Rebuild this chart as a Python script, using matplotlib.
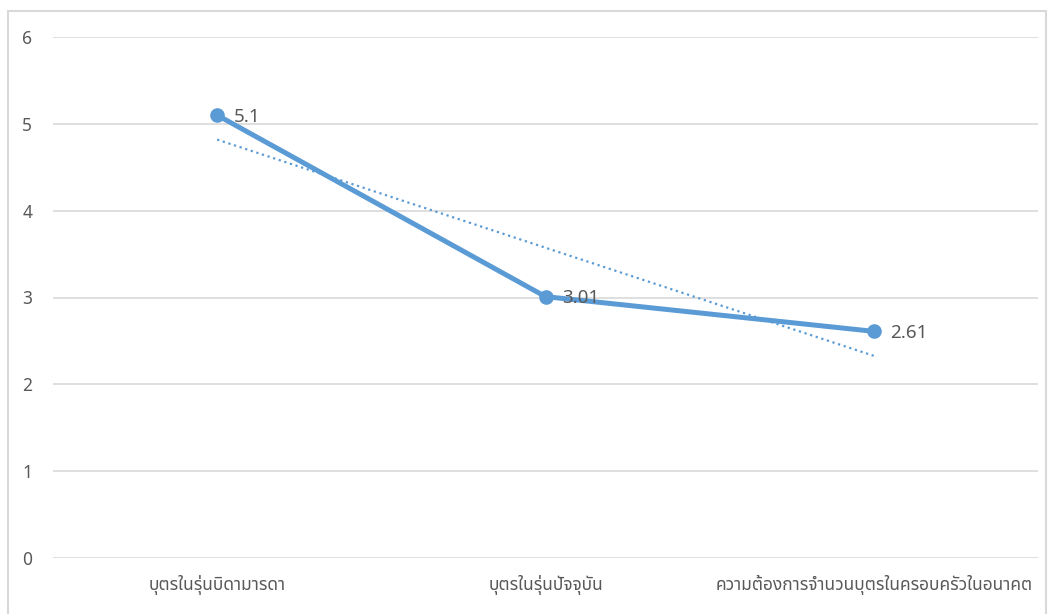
import matplotlib
matplotlib.use("Agg")
import matplotlib.pyplot as plt
import numpy as np
from matplotlib.patches import Rectangle

# ข้อมูล
categories = ["บุตรในรุ่นบิดามารดา", "บุตรในรุ่นปัจจุบัน", "ความต้องการจำนวนบุตรในครอบครัวในอนาคต"]
values = [5.1, 3.01, 2.61]
value_labels = ["5.1", "3.01", "2.61"]
yticks = [0, 1, 2, 3, 4, 5, 6]

BLUE = "#5B9BD5"
GRID = "#D9D9D9"
TXT = "#595959"

plt.rcParams["font.family"] = ["Noto Sans Thai", "Tahoma", "Leelawadee UI", "Loma",
                               "Garuda", "Noto Sans", "DejaVu Sans"]

fig = plt.figure(figsize=(10.5, 6.14), dpi=100)
ax = fig.add_axes([53 / 1050, 56 / 614, 985 / 1050, 521 / 614])

x = np.arange(1, len(values) + 1)
ax.plot(x, values, "-o", color=BLUE, lw=3.6, ms=9.5, solid_capstyle="round", zorder=3)

# เส้นแนวโน้มเชิงเส้น
k, b = np.polyfit(x, values, 1)
ax.plot(x, k * x + b, ":", color=BLUE, lw=1.6, zorder=2)

for xi, v, lab in zip(x, values, value_labels):
    ax.annotate(lab, (xi, v), xytext=(12, -1), textcoords="offset points",
                va="center", ha="left", fontsize=13.5, color=TXT, zorder=4)

ax.set_xlim(0.5, len(values) + 0.5)
ax.set_ylim(0, 6)
ax.set_yticks(yticks)
ax.set_xticks(x)
ax.set_xticklabels(categories, fontsize=12.5, color=TXT)
ax.tick_params(axis="y", labelsize=12.5, labelcolor=TXT, length=0, pad=15)
ax.tick_params(axis="x", length=0, pad=12)
ax.grid(axis="y", color=GRID, lw=1.2)
ax.set_axisbelow(True)
for s in ax.spines.values():
    s.set_visible(False)

fig.patches.append(Rectangle((8 / 1050, -0.05), 1038 / 1050, (614 - 11) / 614 + 0.05,
                             transform=fig.transFigure, fill=False, ec=GRID, lw=1.5))

fig.savefig("out.png", dpi=100)
